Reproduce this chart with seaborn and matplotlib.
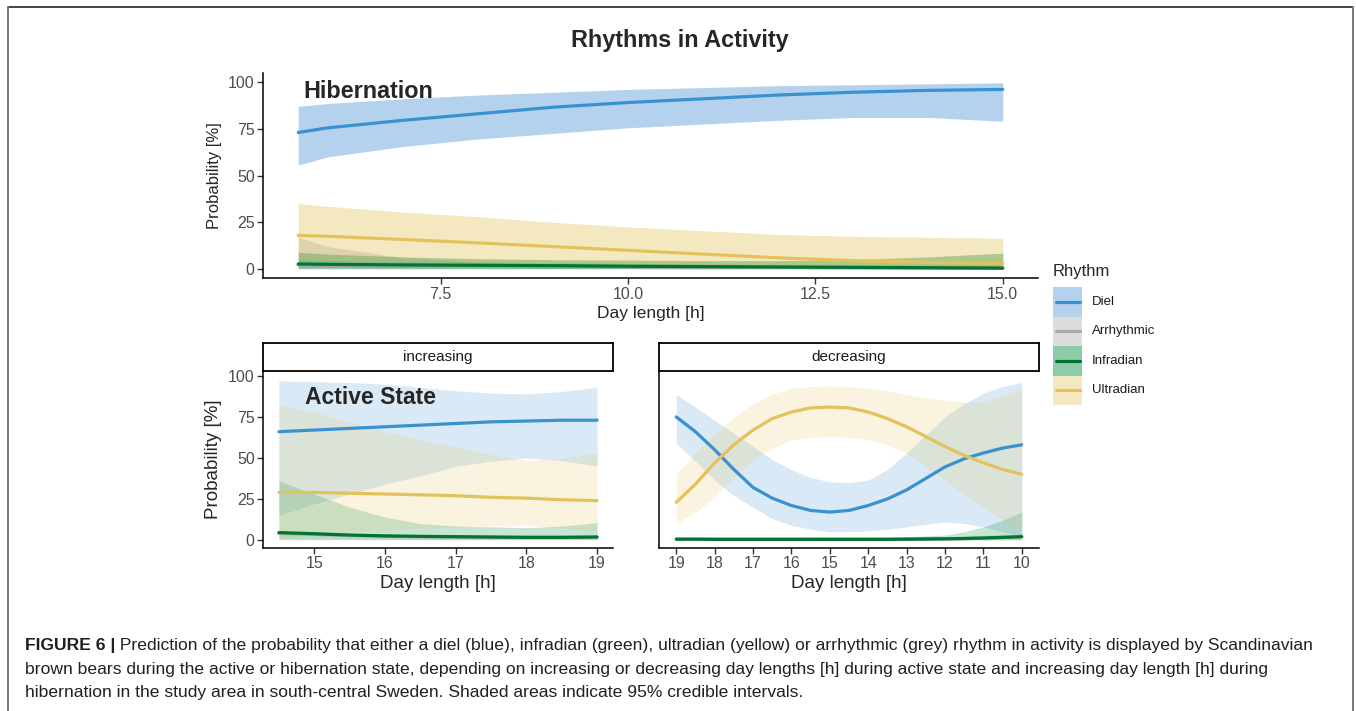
import pandas as pd
import matplotlib
matplotlib.use("Agg")
import matplotlib.pyplot as plt
import seaborn as sns
from matplotlib.lines import Line2D
from matplotlib.patches import Rectangle

rhythms = ["Diel", "Arrhythmic", "Infradian", "Ultradian"]
line_colors = {"Diel": "#3a91d0", "Arrhythmic": "#a8a8a8",
               "Infradian": "#00752f", "Ultradian": "#e3c25c"}
fill_colors = {"Diel": "#3b8bd4", "Arrhythmic": "#a3a3a3",
               "Infradian": "#1f9a55", "Ultradian": "#e3c45a"}
fill_alpha = {"Diel": 0.38, "Arrhythmic": 0.38, "Infradian": 0.5, "Ultradian": 0.38}

# Hibernation (increasing day length)
hib_x = [5.6, 6, 7, 8, 9, 10, 11, 12, 13, 14, 15]
hib_diel = [73, 75.5, 79.5, 83, 86.5, 89, 91, 93, 94.5, 95.5, 96]
hib_diel_lo = [55.6, 60, 65.5, 69.5, 72.5, 75.5, 77.5, 79.5, 81, 81, 79]
hib_diel_hi = [87, 88.5, 91, 93, 94.5, 96, 97, 98, 98.5, 99, 99.5]
hib_arr = [2.2, 2.0, 1.8, 1.6, 1.4, 1.2, 1.0, 0.9, 0.7, 0.6, 0.5]
hib_arr_lo = [0, 0, 0, 0, 0, 0, 0, 0, 0, 0, 0]
hib_arr_hi = [17, 12, 6, 4, 3.5, 3, 2.8, 2.6, 2.5, 2.5, 2.5]
hib_inf = [2.7, 2.5, 2.2, 2, 1.8, 1.5, 1.3, 1.1, 0.9, 0.7, 0.5]
hib_inf_lo = [0.5, 0.5, 0.4, 0.4, 0.3, 0.3, 0.2, 0.2, 0.2, 0.2, 0.2]
hib_inf_hi = [9, 8, 6.5, 5.5, 5, 4.8, 4.5, 4.5, 5, 6.5, 8.5]
hib_ult = [18, 17.5, 15.8, 14, 12, 10, 8, 6, 4.5, 3.5, 3]
hib_ult_lo = [5, 4.5, 4, 3.5, 3, 2, 1.5, 1, 0.7, 0.5, 0.5]
hib_ult_hi = [35, 33.5, 30.5, 28, 25, 22.5, 20.5, 18.5, 17.5, 17, 16.5]

# Active state, increasing day length
inc_x = [14.5, 15, 15.5, 16, 16.5, 17, 17.5, 18, 18.5, 19]
inc_diel = [66, 67, 68, 69, 70, 71, 72, 72.5, 73, 73]
inc_diel_lo = [15, 22, 28, 34, 39, 45, 48, 50, 48.5, 45]
inc_diel_hi = [97, 96.5, 96, 95, 93, 91, 89.5, 89, 90.5, 93]
inc_arr = [4, 3.4, 2.7, 2.2, 2, 1.8, 1.6, 1.5, 1.5, 1.7]
inc_arr_lo = [0, 0, 0, 0, 0, 0, 0, 0, 0, 0]
inc_arr_hi = [5, 4.5, 4, 3.5, 3, 3, 3, 3, 3, 3]
inc_inf = [4.5, 3.8, 3, 2.5, 2.2, 2, 1.8, 1.6, 1.6, 1.8]
inc_inf_lo = [0.5, 0.5, 0.4, 0.4, 0.3, 0.3, 0.3, 0.3, 0.3, 0.3]
inc_inf_hi = [36, 28, 20, 14, 10, 8.5, 8, 7.5, 8.5, 10.5]
inc_ult = [29, 29, 28.5, 28, 27.5, 27, 26, 25.5, 24.5, 24]
inc_ult_lo = [1, 3, 5, 6, 7, 8, 8.5, 9, 7.5, 5]
inc_ult_hi = [82, 78, 72, 66, 61, 57, 52, 48.5, 50, 53]

# Active state, decreasing day length
dec_x = [19, 18.5, 18, 17.5, 17, 16.5, 16, 15.5, 15, 14.5,
         14, 13.5, 13, 12.5, 12, 11.5, 11, 10.5, 10]
dec_diel = [75, 66, 55, 43, 32, 25.5, 21, 18, 17, 18,
            21, 25, 30.5, 37.5, 44.5, 49.5, 53, 56, 58]
dec_diel_lo = [59, 48, 36.5, 27, 20, 13, 9, 6.5, 5, 5,
               5.5, 6.5, 8, 9.5, 11, 10, 8, 5, 3]
dec_diel_hi = [88.5, 81, 73, 65, 57, 49, 43, 38, 35.5, 35,
               36.5, 43, 53, 64, 75, 83, 89.5, 93.5, 96]
dec_arr = [0.4, 0.4, 0.3, 0.3, 0.3, 0.3, 0.3, 0.3, 0.3, 0.3,
           0.3, 0.3, 0.4, 0.5, 0.6, 0.8, 1.1, 1.5, 1.9]
dec_arr_lo = [0] * 19
dec_arr_hi = [2, 2, 2, 2, 2, 2, 2, 2, 2, 2, 2, 2, 2, 2, 2, 2.5, 3, 3.5, 4]
dec_inf = [0.5, 0.5, 0.4, 0.4, 0.4, 0.4, 0.4, 0.4, 0.4, 0.4,
           0.4, 0.4, 0.5, 0.6, 0.7, 0.9, 1.2, 1.6, 2]
dec_inf_lo = [0.1] * 19
dec_inf_hi = [1.5, 1.5, 1.5, 1.5, 1.5, 1.5, 1.5, 1.5, 1.5, 1.5,
              1.5, 1.5, 2, 2.5, 3, 5, 8, 12, 17]
dec_ult = [23, 34, 47, 58, 67, 74, 78, 80.5, 81, 80.5,
           78, 74, 69, 63, 57, 51.5, 47, 43, 40]
dec_ult_lo = [10, 17, 26, 38, 49, 56, 61, 62.5, 63, 62.5,
              61, 58, 53, 45, 36.5, 28, 20, 12, 6]
dec_ult_hi = [40, 53, 65, 75, 83, 89, 92.5, 93.5, 94, 93.5,
              92.5, 91, 88.5, 86.5, 85, 84, 84, 88, 92]


def panel_frame(x, series):
    rows = []
    for r in rhythms:
        mean, lo, hi = series[r]
        for xi, m, l, h in zip(x, mean, lo, hi):
            rows.append({"x": xi, "rhythm": r, "mean": m, "lo": l, "hi": h})
    return pd.DataFrame(rows)


hib = panel_frame(hib_x, {"Diel": (hib_diel, hib_diel_lo, hib_diel_hi),
                          "Arrhythmic": (hib_arr, hib_arr_lo, hib_arr_hi),
                          "Infradian": (hib_inf, hib_inf_lo, hib_inf_hi),
                          "Ultradian": (hib_ult, hib_ult_lo, hib_ult_hi)})
inc = panel_frame(inc_x, {"Diel": (inc_diel, inc_diel_lo, inc_diel_hi),
                          "Arrhythmic": (inc_arr, inc_arr_lo, inc_arr_hi),
                          "Infradian": (inc_inf, inc_inf_lo, inc_inf_hi),
                          "Ultradian": (inc_ult, inc_ult_lo, inc_ult_hi)})
dec = panel_frame(dec_x, {"Diel": (dec_diel, dec_diel_lo, dec_diel_hi),
                          "Arrhythmic": (dec_arr, dec_arr_lo, dec_arr_hi),
                          "Infradian": (dec_inf, dec_inf_lo, dec_inf_hi),
                          "Ultradian": (dec_ult, dec_ult_lo, dec_ult_hi)})

sns.set_style("ticks")
plt.rcParams["font.family"] = ["Liberation Sans", "DejaVu Sans"]

W, H = 1356, 711
fig = plt.figure(figsize=(W / 100, H / 100), dpi=100)


def box(l, t, r, b):
    # pixel box -> figure fraction rect
    return [l / W, 1 - b / H, (r - l) / W, (b - t) / H]


def draw_panel(ax, df, alpha_scale):
    for r in rhythms:
        d = df[df["rhythm"] == r]
        ax.fill_between(d["x"], d["lo"], d["hi"], color=fill_colors[r],
                        alpha=fill_alpha[r] * alpha_scale, linewidth=0)
    sns.lineplot(data=df, x="x", y="mean", hue="rhythm", hue_order=rhythms,
                 palette=line_colors, linewidth=2.3, estimator=None,
                 legend=False, ax=ax)
    ax.set_ylim(-5, 104)
    ax.set_yticks([0, 25, 50, 75, 100])
    for side in ["top", "right"]:
        ax.spines[side].set_visible(False)
    for side in ["left", "bottom"]:
        ax.spines[side].set_color("black")
        ax.spines[side].set_linewidth(1.1)
    ax.tick_params(length=4, width=1, color="#333333", labelsize=11.5,
                   labelcolor="#4d4d4d", pad=2)


# top panel: hibernation
ax_top = fig.add_axes(box(263, 72.6, 1038, 278.4))
draw_panel(ax_top, hib, 1.0)
ax_top.set_ylim(-5, 105)
ax_top.set_xlim(5.13, 15.47)
ax_top.set_xticks([7.5, 10, 12.5, 15])
ax_top.set_xticklabels(["7.5", "10.0", "12.5", "15.0"])
ax_top.set_xlabel("Day length [h]", fontsize=12.5, labelpad=3)
ax_top.set_ylabel("Probability [%]", fontsize=12, labelpad=4)
ax_top.text(0.052, 0.91, "Hibernation", transform=ax_top.transAxes,
            fontsize=16.8, fontweight="bold", va="center", ha="left")

# bottom panels: active state
ax_inc = fig.add_axes(box(263, 371, 613, 548))
draw_panel(ax_inc, inc, 0.5)
ax_inc.set_ylim(-4.9, 103)
ax_inc.set_xlim(14.275, 19.225)
ax_inc.set_xticks([15, 16, 17, 18, 19])
ax_inc.set_xlabel("Day length [h]", fontsize=13.5, labelpad=3)
ax_inc.set_ylabel("Probability [%]", fontsize=13.5, labelpad=4)
ax_inc.text(0.12, 0.853, "Active State", transform=ax_inc.transAxes,
            fontsize=16.5, fontweight="bold", va="center", ha="left")

ax_dec = fig.add_axes(box(659, 371, 1039, 548))
draw_panel(ax_dec, dec, 0.5)
ax_dec.set_ylim(-4.9, 103)
ax_dec.set_xlim(19.45, 9.55)
ax_dec.set_xticks(list(range(19, 9, -1)))
ax_dec.tick_params(axis="y", left=False, labelleft=False)
ax_dec.set_ylabel("")
ax_dec.set_xlabel("Day length [h]", fontsize=13.5, labelpad=3)

# facet strips
for (l, r), label in [((263, 613), "increasing"), ((659, 1039), "decreasing")]:
    sax = fig.add_axes(box(l, 343, r, 371))
    sax.set_xticks([])
    sax.set_yticks([])
    for sp in sax.spines.values():
        sp.set_color("black")
        sp.set_linewidth(1.3)
    sax.text(0.5, 0.5, label, ha="center", va="center", fontsize=11,
             color="#1a1a1a", transform=sax.transAxes)

fig.text(680 / W, 1 - 40 / H, "Rhythms in Activity", ha="center", va="center",
         fontsize=16.8, fontweight="bold")

# legend, laid out by hand in pixels
fig.text(1053 / W, 1 - 271 / H, "Rhythm", fontsize=12, va="center", ha="left")
for i, r in enumerate(rhythms):
    top = 287 + i * 29.5
    fig.add_artist(Rectangle((1053 / W, 1 - (top + 29.5) / H), 29 / W, 29.5 / H,
                             transform=fig.transFigure, facecolor=fill_colors[r],
                             alpha=fill_alpha[r], linewidth=0))
    yc = 1 - (top + 14.75) / H
    fig.add_artist(Line2D([1056 / W, 1080 / W], [yc, yc], transform=fig.transFigure,
                          color=line_colors[r], linewidth=2.3))
    fig.text(1092 / W, yc, r, fontsize=9.5, va="center", ha="left", color="#1a1a1a")

# figure frame
frame_kw = dict(transform=fig.transFigure, linewidth=1.4)
fig.add_artist(Line2D([8 / W, 1353 / W], [1 - 7 / H, 1 - 7 / H], color="#444444", **frame_kw))
fig.add_artist(Line2D([8 / W, 8 / W], [1 - 7 / H, 0], color="#777777", **frame_kw))
fig.add_artist(Line2D([1353 / W, 1353 / W], [1 - 7 / H, 0], color="#777777", **frame_kw))

# caption
cap_size = 12.6
cap_kw = dict(fontsize=cap_size, color="#231f20", va="baseline", ha="left")
t1 = fig.text(25 / W, 1 - 650 / H, "FIGURE 6 |", fontweight="bold", **cap_kw)
plt.annotate(" Prediction of the probability that either a diel (blue), infradian (green), "
             "ultradian (yellow) or arrhythmic (grey) rhythm in activity is displayed by "
             "Scandinavian", xy=(1, 0), xycoords=t1, fontsize=cap_size, color="#231f20",
             va="bottom", ha="left", annotation_clip=False)
fig.text(25 / W, 1 - 674 / H,
         "brown bears during the active or hibernation state, depending on increasing or "
         "decreasing day lengths [h] during active state and increasing day length [h] during",
         **cap_kw)
fig.text(25 / W, 1 - 697 / H,
         "hibernation in the study area in south-central Sweden. Shaded areas indicate "
         "95% credible intervals.", **cap_kw)

fig.savefig("out.png", dpi=100)
